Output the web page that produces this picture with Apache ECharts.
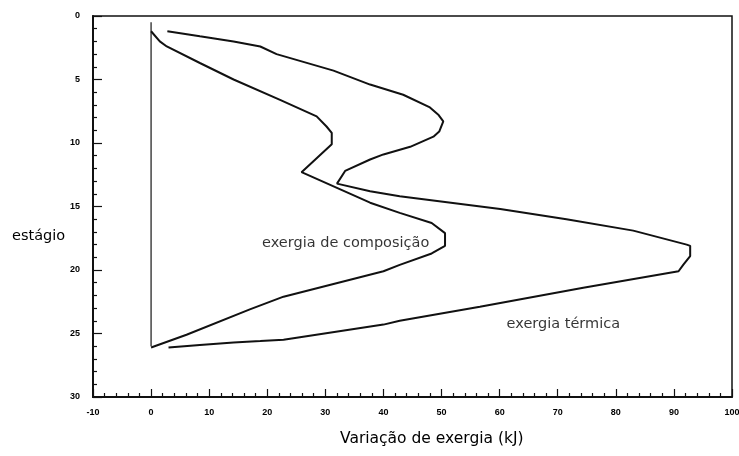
<!DOCTYPE html>
<html>
<head>
<meta charset="utf-8">
<script src="https://cdn.jsdelivr.net/npm/echarts@6/dist/echarts.min.js"></script>
<style>
  html, body { margin: 0; padding: 0; background: #fff; }
  #chart { width: 739px; height: 456px; }
</style>
</head>
<body>
<div id="chart"></div>
<script>
// Exergia térmica: variação (kJ) por estágio
const termX = [2.8, 8.4, 14.2, 18.8, 21.6, 31.4, 37.7, 43.4, 48.0, 49.5, 50.3, 49.6, 48.6, 44.6, 40.0, 37.7,
  33.4, 32.0, 37.7, 42.8, 60.1, 71.5, 83.0, 92.2, 92.8, 92.8, 91.6, 90.8, 74.4, 56.6, 42.8, 40.0, 22.8,
  18.8, 14.2, 8.4, 3.0];
const termStage = [1.2, 1.6, 2.0, 2.4, 3.0, 4.3, 5.4, 6.2, 7.2, 7.8, 8.3, 9.1, 9.5, 10.3, 10.9, 11.3,
  12.2, 13.2, 13.8, 14.2, 15.2, 16.0, 16.9, 18.0, 18.1, 18.9, 19.6, 20.1, 21.4, 22.9, 24.0, 24.3, 25.5,
  25.6, 25.7, 25.9, 26.1];

// Exergia de composição: variação (kJ) por estágio
const compX = [0, 1.5, 2.7, 8.4, 14.2, 22.2, 28.5, 30.2, 31.1, 31.1, 25.9, 37.7, 42.8, 48.3, 50.6, 50.6,
  48.3, 42.8, 40.0, 22.8, 17.0, 6.1, 0];
const compStage = [1.2, 2.0, 2.4, 3.7, 5.0, 6.6, 7.9, 8.7, 9.2, 10.1, 12.3, 14.7, 15.5, 16.3, 17.1, 18.1,
  18.7, 19.6, 20.1, 22.1, 23.1, 25.1, 26.1];

// Linha de referência em zero
const zeroX = [0, 0];
const zeroStage = [0.5, 26];

// Rótulos das curvas (posição em kJ, estágio)
const curveLabels = ['exergia de composição', 'exergia térmica'];
const curveLabelX = [19.1, 61.2];
const curveLabelStage = [17.9, 24.3];

const xTicks = { min: -10, max: 100, interval: 10 };
const yTicks = { min: 0, max: 30, interval: 5 };

const zip = (xs, ys) => xs.map((x, i) => [x, ys[i]]);

const FONT = 'Liberation Sans, Arial, sans-serif';
const WIDE = 'DejaVu Sans, Verdana, sans-serif';
const chart = echarts.init(document.getElementById('chart'), null, { renderer: 'canvas' });

chart.setOption({
  backgroundColor: '#ffffff',
  animation: false,
  grid: {
    left: 93, right: 7, top: 16, bottom: 59,
    outerBoundsMode: 'none', containLabel: false,
    show: true, borderColor: '#111', borderWidth: 1.5, backgroundColor: 'transparent'
  },
  xAxis: {
    type: 'value',
    min: xTicks.min, max: xTicks.max, interval: xTicks.interval,
    axisLine: { show: true, onZero: false, lineStyle: { color: '#111', width: 2 } },
    axisTick: { show: true, inside: true, length: 8, lineStyle: { color: '#111', width: 1.2 } },
    minorTick: { show: true, splitNumber: 5, length: 4, lineStyle: { color: '#111', width: 1.2 } },
    splitLine: { show: false },
    axisLabel: { color: '#000', fontSize: 9, fontWeight: 'bold', fontFamily: FONT, margin: 11 }
  },
  yAxis: {
    type: 'value', inverse: true,
    min: yTicks.min, max: yTicks.max, interval: yTicks.interval,
    axisLine: { show: true, onZero: false, lineStyle: { color: '#111', width: 2 } },
    axisTick: { show: true, inside: true, length: 9, lineStyle: { color: '#111', width: 1.2 } },
    minorTick: { show: true, splitNumber: 5, length: 4, lineStyle: { color: '#111', width: 1.2 } },
    splitLine: { show: false },
    axisLabel: { color: '#000', fontSize: 9, fontWeight: 'bold', fontFamily: FONT, margin: 13 }
  },
  graphic: [
    { type: 'text', left: 12, top: 229,
      style: { text: 'estágio', fill: '#000', font: '14.5px ' + WIDE } },
    { type: 'text', left: 340, top: 431,
      style: { text: 'Variação de exergia (kJ)', fill: '#000', font: '15.5px ' + WIDE } }
  ],
  series: [
    {
      name: 'zero', type: 'line', data: zip(zeroX, zeroStage),
      symbol: 'none', lineStyle: { color: '#444', width: 1.5 }, z: 1
    },
    {
      name: 'exergia térmica', type: 'line', data: zip(termX, termStage),
      symbol: 'none', smooth: false, lineStyle: { color: '#111', width: 2 }
    },
    {
      name: 'exergia de composição', type: 'line', data: zip(compX, compStage),
      symbol: 'none', smooth: false, lineStyle: { color: '#111', width: 2 }
    },
    {
      name: 'rótulos', type: 'scatter', symbolSize: 0,
      data: curveLabels.map((t, i) => ({ value: [curveLabelX[i], curveLabelStage[i]], name: t })),
      label: {
        show: true, position: 'right', distance: 0, formatter: p => p.name,
        color: '#000', fontSize: 14.5, fontFamily: WIDE
      }
    }
  ]
});
</script>
</body>
</html>
